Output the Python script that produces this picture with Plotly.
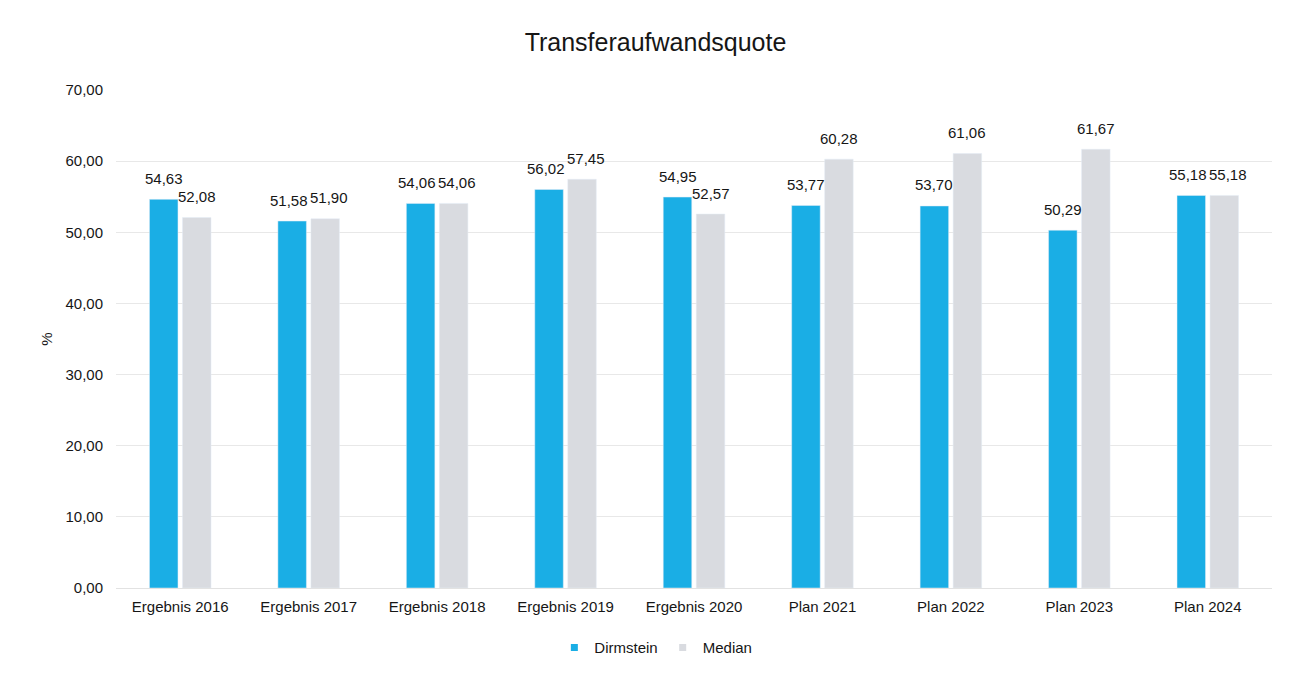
import plotly.graph_objects as go

categories = ["Ergebnis 2016", "Ergebnis 2017", "Ergebnis 2018", "Ergebnis 2019",
              "Ergebnis 2020", "Plan 2021", "Plan 2022", "Plan 2023", "Plan 2024"]
dirmstein = [54.63, 51.58, 54.06, 56.02, 54.95, 53.77, 53.70, 50.29, 55.18]
median = [52.08, 51.90, 54.06, 57.45, 52.57, 60.28, 61.06, 61.67, 55.18]

font_family = "Liberation Sans, Arial, sans-serif"
blue = "#1AAEE5"
gray = "#D9DBE0"
txt = "#161616"


def fmt(v):
    return f"{v:.2f}".replace(".", ",")


fig = go.Figure()
fig.add_trace(go.Bar(x=categories, y=dirmstein, name="Dirmstein",
                     marker=dict(color=blue), showlegend=False))
fig.add_trace(go.Bar(x=categories, y=median, name="Median",
                     marker=dict(color=gray), showlegend=False))
# legend entries with small square markers
fig.add_trace(go.Scatter(x=[None], y=[None], mode="markers", name="Dirmstein",
                         marker=dict(symbol="square", size=7, color=blue)))
fig.add_trace(go.Scatter(x=[None], y=[None], mode="markers", name="Median",
                         marker=dict(symbol="square", size=7, color=gray)))

annotations = []
for c, a, b in zip(categories, dirmstein, median):
    # labels of near-equal pairs are nudged apart a little so they do not collide
    extra = 3.5 if abs(a - b) < 2.2 else 0
    for v, shift in ((a, -16.5 - extra), (b, 16.5 + extra)):
        annotations.append(dict(
            x=c, y=v, xref="x", yref="y", text=fmt(v), showarrow=False,
            xshift=shift, yshift=21, xanchor="center", yanchor="middle",
            font=dict(size=15, color=txt, family=font_family)))

fig.update_layout(
    width=1295, height=668,
    separators=",.",
    paper_bgcolor="white", plot_bgcolor="white",
    font=dict(family=font_family, size=15, color=txt),
    title=dict(text="Transferaufwandsquote", x=0.5, xanchor="center",
               y=1 - 34 / 668, yanchor="middle", font=dict(size=25, color=txt)),
    barmode="group", bargap=0.486, bargroupgap=0.136,
    margin=dict(l=108, r=31, t=82, b=81),
    xaxis=dict(showgrid=False, showline=True, linecolor="#E2E2E2", linewidth=1,
               tickfont=dict(size=15), ticks="", ticklabelstandoff=5),
    yaxis=dict(range=[0, 70], dtick=10, tickformat=".2f",
               showgrid=True, gridcolor="#E8E8E8", gridwidth=1,
               zeroline=False, ticks="", ticklabelstandoff=12,
               tickfont=dict(size=15),
               title=dict(text="%", font=dict(size=15), standoff=9)),
    legend=dict(orientation="h", x=0.467, xanchor="center", y=-0.12, yanchor="middle",
                font=dict(size=15), itemwidth=30, traceorder="normal"),
    annotations=annotations,
    showlegend=True,
)

fig.write_html("out.html")
